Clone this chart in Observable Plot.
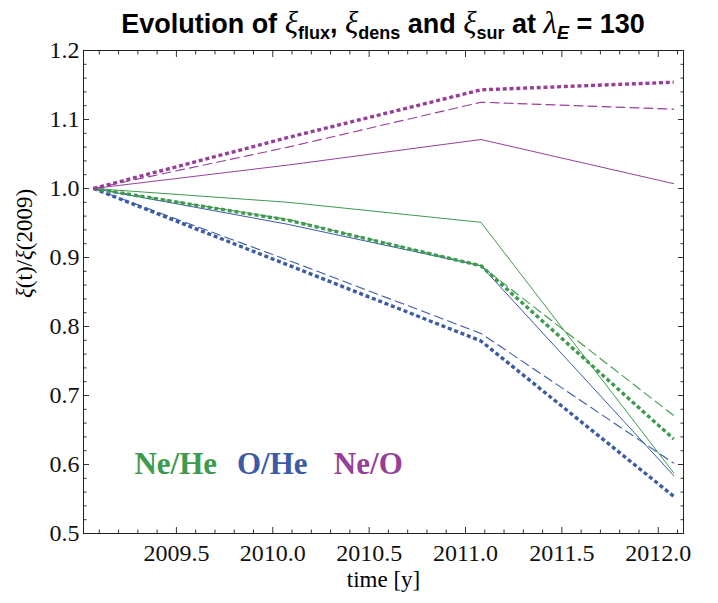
<!DOCTYPE html>
<html>
<head>
<meta charset="utf-8">
<script src="https://cdn.jsdelivr.net/npm/d3@7"></script>
<script src="https://cdn.jsdelivr.net/npm/@observablehq/plot@0.6"></script>
<style>
  body { margin: 0; background: #fff; }
  #wrap { position: relative; width: 718px; }
  #title { position: relative; width: 718px; height: 40px; }
  #title .t { position: absolute; left: 24px; width: 718px; top: 5px; text-align: center;
    font-family: "Liberation Sans", Arial, sans-serif; font-weight: bold; font-size: 27px; color: #000; white-space: nowrap; }
  #title .g { font-family: "Liberation Serif", "Times New Roman", serif; font-style: italic; font-weight: normal; font-size: 31px; }
  #title sub { font-size: 18px; vertical-align: -0.35em; line-height: 0; }
</style>
</head>
<body>
<div id="wrap">
  <div id="title"><span class="t">Evolution of <span class="g">ξ</span><sub>flux</sub>, <span class="g">ξ</span><sub>dens</sub> and <span class="g">ξ</span><sub>sur</sub> at <span class="g">λ</span><sub><i>E</i></sub> = 130</span></div>
  <div id="chart"></div>
</div>
<script>
// ---- data ----
const times = [2009.07, 2010.08, 2011.08, 2012.08];

const neHeSolid  = [1.000, 0.980, 0.951, 0.588];
const neHeDashed = [1.000, 0.955, 0.888, 0.671];
const neHeDotted = [1.000, 0.954, 0.888, 0.637];

const oHeSolid   = [1.000, 0.948, 0.888, 0.584];
const oHeDashed  = [1.000, 0.896, 0.790, 0.602];
const oHeDotted  = [1.000, 0.889, 0.779, 0.554];

const neOSolid   = [1.000, 1.034, 1.071, 1.007];
const neODashed  = [1.000, 1.060, 1.125, 1.115];
const neODotted  = [1.000, 1.074, 1.143, 1.154];

const xMajor = [2009.5, 2010.0, 2010.5, 2011.0, 2011.5, 2012.0];
const xMinor = [2009.1, 2009.2, 2009.3, 2009.4, 2009.6, 2009.7, 2009.8, 2009.9,
                2010.1, 2010.2, 2010.3, 2010.4, 2010.6, 2010.7, 2010.8, 2010.9,
                2011.1, 2011.2, 2011.3, 2011.4, 2011.6, 2011.7, 2011.8, 2011.9, 2012.1];
const yMajor = [0.5, 0.6, 0.7, 0.8, 0.9, 1.0, 1.1, 1.2];
const yMinor = [0.52, 0.54, 0.56, 0.58, 0.62, 0.64, 0.66, 0.68, 0.72, 0.74, 0.76, 0.78,
                0.82, 0.84, 0.86, 0.88, 0.92, 0.94, 0.96, 0.98, 1.02, 1.04, 1.06, 1.08,
                1.12, 1.14, 1.16, 1.18];

const ratioNames = ["Ne/He", "O/He", "Ne/O"];
const ratioColors = ["#3e9a4f", "#3b5ba5", "#973f98"];
const legendX = [2009.282, 2009.814, 2010.317];
const legendY = [0.6, 0.6, 0.6];

// ---- build tables ----
const toRows = vals => times.map((t, i) => ({t, v: vals[i]}));
const groups = [
  {color: ratioColors[0], solid: neHeSolid, dashed: neHeDashed, dotted: neHeDotted},
  {color: ratioColors[1], solid: oHeSolid, dashed: oHeDashed, dotted: oHeDotted},
  {color: ratioColors[2], solid: neOSolid, dashed: neODashed, dotted: neODotted}
];
const lineMarks = [];
for (const g of [groups[1], groups[0], groups[2]]) {
  lineMarks.push(Plot.line(toRows(g.solid), {x: "t", y: "v", stroke: g.color, strokeWidth: 1}));
  lineMarks.push(Plot.line(toRows(g.dashed), {x: "t", y: "v", stroke: g.color, strokeWidth: 1.1, strokeDasharray: "9,5"}));
  lineMarks.push(Plot.line(toRows(g.dotted), {x: "t", y: "v", stroke: g.color, strokeWidth: 3.4, strokeDasharray: "4,2.8", strokeLinecap: "butt"}));
}
const legendRows = ratioNames.map((name, i) => ({name, x: legendX[i], y: legendY[i], color: ratioColors[i]}));

const serif = '"Liberation Serif", "Times New Roman", serif';
const tickStroke = "#333";

const chart = Plot.plot({
  width: 718,
  height: 563,
  marginTop: 10,
  marginBottom: 70,
  marginLeft: 83,
  marginRight: 35,
  x: {domain: [2009.018, 2012.131]},
  y: {domain: [0.5, 1.2]},
  style: {fontFamily: serif, fontSize: "24px", background: "white", color: "#000", overflow: "visible"},
  marks: [
    ...lineMarks,
    // inward ticks on all four sides
    Plot.axisX(xMajor, {anchor: "bottom", tickSize: -6, tickFormat: () => "", stroke: tickStroke, label: null}),
    Plot.axisX(xMinor, {anchor: "bottom", tickSize: -3.5, tickFormat: () => "", stroke: tickStroke, label: null}),
    Plot.axisX(xMajor, {anchor: "top", tickSize: -6, tickFormat: () => "", stroke: tickStroke, label: null}),
    Plot.axisX(xMinor, {anchor: "top", tickSize: -3.5, tickFormat: () => "", stroke: tickStroke, label: null}),
    Plot.axisY(yMajor, {anchor: "left", tickSize: -6, tickFormat: () => "", stroke: tickStroke, label: null}),
    Plot.axisY(yMinor, {anchor: "left", tickSize: -3.5, tickFormat: () => "", stroke: tickStroke, label: null}),
    Plot.axisY(yMajor, {anchor: "right", tickSize: -6, tickFormat: () => "", stroke: tickStroke, label: null}),
    Plot.axisY(yMinor, {anchor: "right", tickSize: -3.5, tickFormat: () => "", stroke: tickStroke, label: null}),
    // tick labels
    Plot.axisX(xMajor, {anchor: "bottom", tickSize: 0, tickPadding: 10, tickFormat: d => d.toFixed(1), fontSize: 24, fontFamily: serif, fontVariant: "normal", fill: "#111", label: null}),
    Plot.axisY(yMajor, {anchor: "left", tickSize: 0, tickPadding: 4, tickFormat: d => d.toFixed(1), fontSize: 24, fontFamily: serif, fontVariant: "normal", fill: "#111", label: null}),
    Plot.frame({stroke: "#222", strokeWidth: 1}),
    // axis titles
    Plot.text(["time [y]"], {text: d => d, frameAnchor: "bottom", dy: 53, fontSize: 23, fontFamily: serif}),
    Plot.text(["ξ(t)/ξ(2009)"], {text: d => d, frameAnchor: "left", dx: -59, dy: 6, rotate: -90, fontSize: 23, fontFamily: serif, className: "ylab"}),
    // in-plot legend
    Plot.text(legendRows, {x: "x", y: "y", text: "name", fill: "color", textAnchor: "start", fontSize: 31, fontWeight: "bold", fontFamily: serif})
  ]
});
document.getElementById("chart").appendChild(chart);

// enforce the serif face on every svg text
d3.select(chart).selectAll("text, g")
  .style("font-family", "'Liberation Serif', 'Times New Roman', serif", "important")
  .style("font-variant", "normal");

// italic ξ in y label
const yl = d3.select(chart).select(".ylab text");
if (!yl.empty()) {
  yl.text(null);
  [["ξ", true], ["(t)/", false], ["ξ", true], ["(2009)", false]].forEach(([s, it]) => {
    yl.append("tspan").attr("font-style", it ? "italic" : "normal").text(s);
  });
}
</script>
</body>
</html>
